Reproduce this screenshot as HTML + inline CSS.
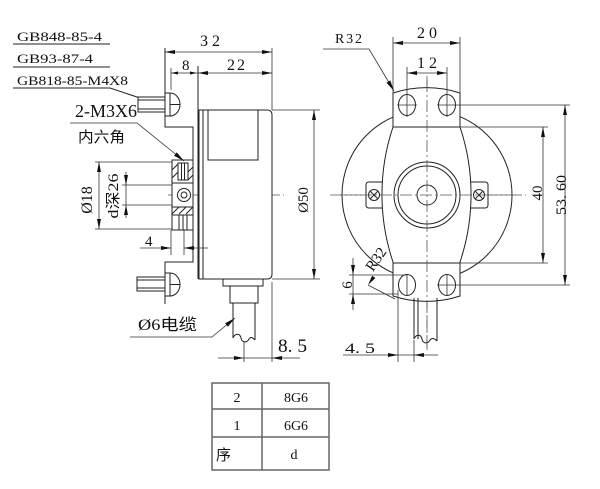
<!DOCTYPE html>
<html><head><meta charset="utf-8">
<style>
html,body{margin:0;padding:0;background:#fff;}
svg{display:block;}
text{font-family:"Liberation Serif","Noto Serif CJK SC",serif;fill:#111;}
.cjk{font-family:"Liberation Serif","Noto Sans CJK SC",sans-serif;}
</style></head><body>
<svg width="600" height="489" viewBox="0 0 600 489" xmlns="http://www.w3.org/2000/svg">
<rect x="0" y="0" width="600" height="489" fill="#fff"/>

<!-- ============ CENTER LINES ============ -->
<g fill="none" stroke="#555" stroke-width="0.8" stroke-dasharray="12,3,2,3">
  <line x1="168" y1="195" x2="284" y2="195"/>
  <line x1="330" y1="195" x2="526" y2="195"/>
  <line x1="427" y1="76" x2="427" y2="350"/>
</g>

<!-- ============ LEFT VIEW ============ -->
<g fill="none" stroke="#222" stroke-width="1">
  <line x1="13" y1="44" x2="110" y2="44"/>
  <line x1="13" y1="67" x2="110" y2="67"/>
  <line x1="13" y1="88" x2="110" y2="88"/>
  <line x1="110" y1="88" x2="140" y2="98"/>

  <rect x="138" y="97" width="27" height="15" fill="#fff"/>
  <line x1="138" y1="100" x2="165" y2="100"/>
  <line x1="138" y1="109" x2="165" y2="109"/>
  <path d="M165,93 H170 A10,11.5 0 0 1 170,116 H165 Z" fill="#fff"/>
  <line x1="170" y1="93" x2="170" y2="116"/>
  <line x1="170" y1="104.5" x2="180" y2="104.5"/>

  <rect x="137" y="277" width="28" height="14" fill="#fff"/>
  <line x1="137" y1="280" x2="165" y2="280"/>
  <line x1="137" y1="288" x2="165" y2="288"/>
  <path d="M165,273 H170 A10,11.5 0 0 1 170,296 H165 Z" fill="#fff"/>
  <line x1="170" y1="273" x2="170" y2="296"/>
  <line x1="170" y1="284.5" x2="180" y2="284.5"/>

  <path d="M165,48 V127 H193 V262 H165 V304"/>
  <line x1="198" y1="66" x2="198" y2="279"/>

  <rect x="172" y="160" width="21" height="70" fill="#fff"/>
  <line x1="172" y1="183" x2="193" y2="183"/>
  <line x1="172" y1="207" x2="193" y2="207"/>
  <rect x="178" y="163" width="10" height="17"/>
  <line x1="181.5" y1="163" x2="181.5" y2="180"/>
  <line x1="184.5" y1="163" x2="184.5" y2="180"/>
  <line x1="172" y1="170" x2="178" y2="164"/>
  <line x1="172" y1="178" x2="178" y2="172"/>
  <line x1="188" y1="172" x2="193" y2="167"/>
  <line x1="188" y1="180" x2="193" y2="175"/>
  <circle cx="184" cy="195" r="6.5"/>
  <circle cx="184" cy="195" r="3"/>
  <line x1="172" y1="214" x2="179" y2="207"/>
  <line x1="179" y1="214" x2="186" y2="207"/>
  <line x1="186" y1="214" x2="193" y2="207"/>
  <line x1="172" y1="215" x2="193" y2="215"/>
  <line x1="179" y1="215" x2="179" y2="230"/>
  <line x1="183" y1="215" x2="183" y2="230"/>
  <line x1="187" y1="215" x2="187" y2="230"/>

  <path d="M199,110 H267 Q272,110 272,115 V274 Q272,279 267,279 H199 Z" fill="#fff"/>
  <line x1="203" y1="110" x2="203" y2="279"/>
  <rect x="208" y="110" width="50" height="50"/>

  <rect x="223" y="279" width="40" height="7"/>
  <rect x="230" y="286" width="28" height="17"/>
  <path d="M233,303 V338 M255,303 V340"/>
  <path d="M233,338 C235,333 240,333 241,338 C242,343 247,343 249,339 C251,336 253,338 255,340"/>
</g>

<g fill="none" stroke="#333" stroke-width="0.8">
  <line x1="165" y1="52" x2="272" y2="52"/>
  <line x1="272" y1="48" x2="272" y2="110"/>
  <line x1="171" y1="73" x2="272" y2="73"/>
  <line x1="171" y1="68" x2="171" y2="90"/>
  <line x1="272" y1="110" x2="320" y2="110"/>
  <line x1="272" y1="279" x2="320" y2="279"/>
  <line x1="314" y1="110" x2="314" y2="279"/>
  <line x1="99" y1="162" x2="99" y2="229"/>
  <line x1="95" y1="162" x2="172" y2="162"/>
  <line x1="95" y1="229" x2="172" y2="229"/>
  <line x1="126" y1="172" x2="126" y2="218"/>
  <line x1="122" y1="185" x2="172" y2="185"/>
  <line x1="122" y1="205" x2="172" y2="205"/>
  <line x1="140" y1="248" x2="171" y2="248"/>
  <line x1="184" y1="248" x2="208" y2="248"/>
  <line x1="171" y1="230" x2="171" y2="255"/>
  <line x1="184" y1="230" x2="184" y2="255"/>
  <line x1="218" y1="358" x2="300" y2="358"/>
  <line x1="244" y1="342" x2="244" y2="362"/>
  <line x1="272" y1="282" x2="272" y2="362"/>
  <polyline points="70,123 137,123 184,161"/>
  <polyline points="130,337 212,337 235,318"/>
</g>
<g fill="#111" stroke="none">
  <polygon points="165,52 175,50 175,54"/>
  <polygon points="272,52 262,50 262,54"/>
  <polygon points="198,73 208,71 208,75"/>
  <polygon points="272,73 262,71 262,75"/>
  <polygon points="171,73 178,71.5 178,74.5"/>
  <polygon points="197,73 190,71.5 190,74.5"/>
  <polygon points="314,110 312,120 316,120"/>
  <polygon points="314,279 312,269 316,269"/>
  <polygon points="99,162 97,172 101,172"/>
  <polygon points="99,229 97,219 101,219"/>
  <polygon points="126,185 124,175 128,175"/>
  <polygon points="126,205 124,215 128,215"/>
  <polygon points="171,248 161,246 161,250"/>
  <polygon points="184,248 194,246 194,250"/>
  <polygon points="244,358 234,356 234,360"/>
  <polygon points="272,358 282,356 282,360"/>
  <polygon points="184,161 174,155.8 176.8,152.4"/>
  <polygon points="235,318 227.9,326.7 225.1,323.3"/>
</g>

<text x="17" y="41" font-size="12.5" textLength="85" lengthAdjust="spacingAndGlyphs">GB848-85-4</text>
<text x="17" y="63" font-size="12.5" textLength="76" lengthAdjust="spacingAndGlyphs">GB93-87-4</text>
<text x="17" y="85" font-size="12.5" textLength="111" lengthAdjust="spacingAndGlyphs">GB818-85-M4X8</text>
<text x="75" y="117" font-size="18" textLength="62" lengthAdjust="spacingAndGlyphs">2-M3X6</text>
<text class="cjk" x="78" y="142" font-size="15" textLength="47" lengthAdjust="spacingAndGlyphs">内六角</text>
<text x="200" y="46" font-size="16" textLength="20" lengthAdjust="spacing">32</text>
<text x="182" y="70" font-size="15">8</text>
<text x="227" y="70" font-size="16" textLength="18" lengthAdjust="spacing">22</text>
<text transform="translate(308,200) rotate(-90)" font-size="15" text-anchor="middle">Ø50</text>
<text transform="translate(92,200) rotate(-90)" font-size="16" text-anchor="middle">Ø18</text>
<text class="cjk" transform="translate(118,196) rotate(-90)" font-size="15" text-anchor="middle" textLength="45" lengthAdjust="spacingAndGlyphs">d深26</text>
<text x="145" y="246" font-size="15">4</text>
<text x="278" y="352" font-size="19" textLength="29" lengthAdjust="spacingAndGlyphs">8. 5</text>
<text class="cjk" x="138" y="330" font-size="16" textLength="59" lengthAdjust="spacingAndGlyphs">Ø6电缆</text>

<!-- ============ FRONT VIEW ============ -->
<g fill="none" stroke="#222" stroke-width="1">
  <circle cx="427" cy="195" r="85"/>
  <path d="M385,182 H369 Q366,182 366,185 V205 Q366,208 369,208 H385" fill="#fff"/>
  <path d="M469,182 H485 Q488,182 488,185 V205 Q488,208 485,208 H469" fill="#fff"/>
  <circle cx="374" cy="195" r="5.5"/>
  <line x1="370.5" y1="191.5" x2="377.5" y2="198.5"/>
  <line x1="370.5" y1="198.5" x2="377.5" y2="191.5"/>
  <circle cx="479" cy="195" r="5.5"/>
  <line x1="475.5" y1="191.5" x2="482.5" y2="198.5"/>
  <line x1="475.5" y1="198.5" x2="482.5" y2="191.5"/>
  <path d="M393,93 A107,107 0 0 1 460,93 L460,127 A212,212 0 0 1 460,262 L460,296 A107,107 0 0 1 393,296 L393,262 A212,212 0 0 1 393,127 Z" fill="#fff"/>
  <line x1="393" y1="127" x2="460" y2="127"/>
  <line x1="393" y1="263" x2="460" y2="263"/>
  <ellipse cx="407" cy="105" rx="8.5" ry="10.5"/>
  <ellipse cx="447" cy="105" rx="8.5" ry="10.5"/>
  <ellipse cx="407" cy="285" rx="8.5" ry="10.5"/>
  <ellipse cx="447" cy="285" rx="8.5" ry="10.5"/>
  <circle cx="427" cy="195" r="33"/>
  <circle cx="427" cy="195" r="29"/>
  <circle cx="427" cy="195" r="10"/>
  <path d="M414,298 V339 M418,298 V339 M437,298 V341"/>
  <path d="M414,339 C416,334 421,334 422,339 C423,344 428,344 430,340 C432,337 435,339 437,341"/>
</g>
<g fill="none" stroke="#555" stroke-width="0.8" stroke-dasharray="12,3,2,3">
  <line x1="340" y1="195" x2="516" y2="195"/>
  <line x1="427" y1="80" x2="427" y2="350"/>
</g>

<g fill="none" stroke="#333" stroke-width="0.8">
  <line x1="393" y1="43" x2="460" y2="43"/>
  <line x1="393" y1="37" x2="393" y2="93"/>
  <line x1="460" y1="37" x2="460" y2="93"/>
  <line x1="407" y1="73" x2="447" y2="73"/>
  <line x1="407" y1="67" x2="407" y2="117"/>
  <line x1="447" y1="67" x2="447" y2="117"/>
  <line x1="397" y1="105" x2="417" y2="105"/>
  <line x1="437" y1="105" x2="570" y2="105"/>
  <line x1="460" y1="127" x2="548" y2="127"/>
  <line x1="460" y1="263" x2="548" y2="263"/>
  <line x1="437" y1="285" x2="570" y2="285"/>
  <line x1="407" y1="274" x2="407" y2="296"/>
  <line x1="447" y1="274" x2="447" y2="296"/>
  <line x1="543" y1="127" x2="543" y2="263"/>
  <line x1="565" y1="105" x2="565" y2="285"/>
  <line x1="353" y1="258" x2="353" y2="310"/>
  <line x1="349" y1="275" x2="407" y2="275"/>
  <line x1="349" y1="294" x2="398" y2="294"/>
  <line x1="343" y1="355" x2="438" y2="355"/>
  <line x1="398" y1="290" x2="398" y2="362"/>
  <line x1="414" y1="340" x2="414" y2="362"/>
  <polyline points="323,49 369,49 394,91"/>
  <line x1="368" y1="285" x2="395" y2="299"/>
</g>
<g fill="#111" stroke="none">
  <polygon points="393,43 403,41 403,45"/>
  <polygon points="460,43 450,41 450,45"/>
  <polygon points="407,73 417,71 417,75"/>
  <polygon points="447,73 437,71 437,75"/>
  <polygon points="543,127 541,137 545,137"/>
  <polygon points="543,263 541,253 545,253"/>
  <polygon points="565,105 563,115 567,115"/>
  <polygon points="565,285 563,275 567,275"/>
  <polygon points="394,91 386.5,82.7 390.3,80.4"/>
  <polygon points="353,275 351,265 355,265"/>
  <polygon points="353,294 351,304 355,304"/>
  <polygon points="398,355 388,353 388,357"/>
  <polygon points="414,355 424,353 424,357"/>
  <polygon points="368,285 375.4,278 372.1,275.7"/>
</g>

<text x="335" y="43" font-size="14" textLength="27" lengthAdjust="spacing">R32</text>
<text x="417" y="38" font-size="16" textLength="20" lengthAdjust="spacing">20</text>
<text x="417" y="68" font-size="16" textLength="20" lengthAdjust="spacing">12</text>
<text transform="translate(542,193) rotate(-90)" font-size="15" text-anchor="middle">40</text>
<text transform="translate(566,195) rotate(-90)" font-size="15" text-anchor="middle" textLength="40" lengthAdjust="spacingAndGlyphs">53. 60</text>
<text transform="translate(380,262) rotate(-55)" font-size="15" text-anchor="middle">R32</text>
<text transform="translate(352,285) rotate(-90)" font-size="15" text-anchor="middle">6</text>
<text x="345" y="353" font-size="15" textLength="30" lengthAdjust="spacingAndGlyphs">4. 5</text>

<!-- ============ TABLE ============ -->
<g fill="none" stroke="#666" stroke-width="1.5">
  <rect x="212" y="383" width="117" height="87"/>
  <line x1="262" y1="383" x2="262" y2="470"/>
  <line x1="212" y1="409" x2="329" y2="409"/>
  <line x1="212" y1="437" x2="329" y2="437"/>
</g>
<text x="237" y="402" font-size="14" text-anchor="middle">2</text>
<text x="296" y="402" font-size="14" text-anchor="middle">8G6</text>
<text x="237" y="430" font-size="14" text-anchor="middle">1</text>
<text x="296" y="430" font-size="14" text-anchor="middle">6G6</text>
<text class="cjk" x="216" y="460" font-size="15">序</text>
<text x="294" y="459" font-size="14" text-anchor="middle">d</text>
</svg>
</body></html>
